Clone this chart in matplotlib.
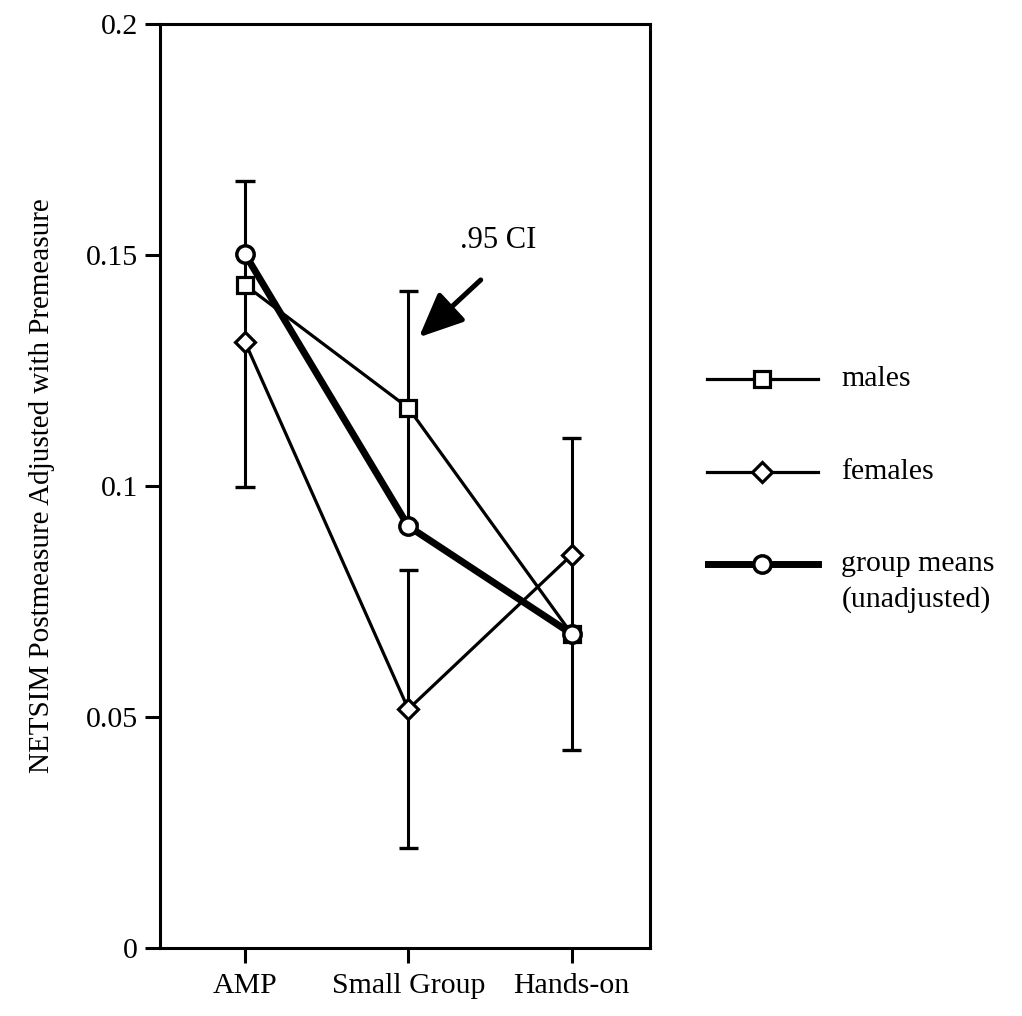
import matplotlib

matplotlib.use("Agg")
import matplotlib.pyplot as plt
import numpy as np

plt.rcParams["font.family"] = ["Liberation Serif", "DejaVu Serif"]

# data
categories = ["AMP", "Small Group", "Hands-on"]
males = [0.1435, 0.1169, 0.0680]
females = [0.1312, 0.0517, 0.0851]
group_means = [0.1502, 0.0913, 0.0680]

# .95 CI bars: (category index, low, high)
ci_pos = [0, 1, 1, 2]
ci_low = [0.0998, 0.0920, 0.0217, 0.0429]
ci_high = [0.1660, 0.1422, 0.0819, 0.1104]

y_ticks = [0, 0.05, 0.1, 0.15, 0.2]
y_tick_labels = ["0", "0.05", "0.1", "0.15", "0.2"]

legend_labels = ["males", "females", "group means\n(unadjusted)"]

fig = plt.figure(figsize=(10.22, 10.16), dpi=100)
ax = fig.add_axes([0.1566, 0.0669, 0.4795, 0.9095])
x = np.arange(len(categories))

# error bars (drawn under the markers)
pos = np.asarray(ci_pos)
ci_low_a = np.asarray(ci_low)
ci_high_a = np.asarray(ci_high)
ax.vlines(pos, ci_low_a, ci_high_a, color="black", lw=2.2, zorder=1)
ax.hlines(ci_low_a, pos - 0.06, pos + 0.06, color="black", lw=2.4, zorder=1)
ax.hlines(ci_high_a, pos - 0.06, pos + 0.06, color="black", lw=2.4, zorder=1)

style_m = dict(color="black", lw=2.3, marker="s", ms=12, mfc="white", mec="black", mew=2.3)
style_f = dict(color="black", lw=2.3, marker="D", ms=10.5, mfc="white", mec="black", mew=2.3)
style_g = dict(color="black", lw=5.0, marker="o", ms=12.5, mfc="white", mec="black", mew=2.5)

ax.plot(x, males, zorder=3, **style_m)
ax.plot(x, females, zorder=3, **style_f)
ax.plot(x, group_means, zorder=4, **style_g)

# ".95 CI" note with arrow pointing at the Small Group interval
ax.annotate("", xy=(1.065, 0.1322), xytext=(1.443, 0.1446),
            arrowprops=dict(arrowstyle="-|>,head_length=0.9,head_width=0.4",
                            mutation_scale=30, color="black", lw=3.6,
                            shrinkA=0, shrinkB=0))
ax.text(1.553, 0.1532, ".95 CI", fontsize=22, ha="center", va="center")

ax.set_xlim(-0.52, 2.48)
ax.set_ylim(0, 0.2)
ax.set_xticks(x)
ax.set_xticklabels(categories, fontsize=21.5)
ax.set_yticks(y_ticks)
ax.set_yticklabels(y_tick_labels, fontsize=21.5)
ax.tick_params(axis="both", direction="out", length=11, width=2.2, pad=5)
ax.tick_params(axis="x", pad=7)
for sp in ax.spines.values():
    sp.set_linewidth(2.2)
ax.set_ylabel("NETSIM Postmeasure Adjusted with Premeasure", fontsize=21, labelpad=22)

# hand-built legend on the right
lax = fig.add_axes([0.69, 0.35, 0.31, 0.35])
lax.set_xlim(0, 1)
lax.set_ylim(0, 1)
lax.axis("off")
rows = [0.79, 0.53, 0.27]
line_gap = 0.098
for row, lab, st in zip(rows, legend_labels, [style_m, style_f, style_g]):
    lax.plot([0.005, 0.355], [row, row], **{k: v for k, v in st.items() if not k.startswith("m")})
    lax.plot([0.18], [row], ls="none", **{k: v for k, v in st.items() if k.startswith("m")})
    for i, part in enumerate(lab.split("\n")):
        lax.text(0.43, row - i * line_gap, part, fontsize=21.5, va="center", ha="left")

fig.savefig("out.png", dpi=100)
